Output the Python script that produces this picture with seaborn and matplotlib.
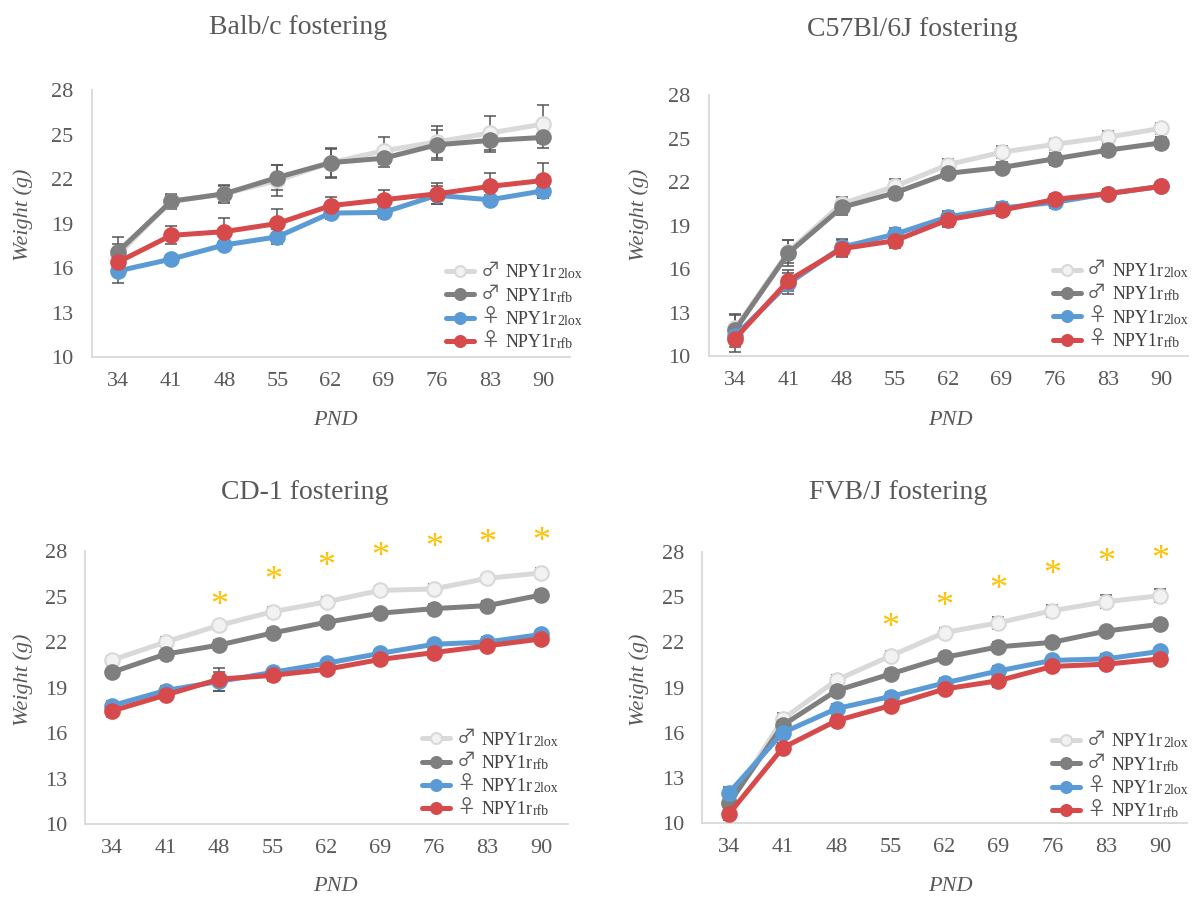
import numpy as np
import pandas as pd
import matplotlib
matplotlib.use("Agg")
import matplotlib.pyplot as plt
import seaborn as sns

# ---------------- data ----------------
pnd = [34, 41, 48, 55, 62, 69, 76, 83, 90]
yticks = [10, 13, 16, 19, 22, 25, 28]
titles = ["Balb/c fostering", "C57Bl/6J fostering", "CD-1 fostering", "FVB/J fostering"]
series_sex = ["♂", "♂", "♀", "♀"]
series_labels = ["NPY1r", "NPY1r", "NPY1r", "NPY1r"]
series_suffix = ["2lox", "rfb", "2lox", "rfb"]

# Balb/c
balb_m2lox = [16.9, 20.5, 21.0, 21.9, 23.1, 23.9, 24.5, 25.1, 25.7]
balb_mrfb = [17.1, 20.5, 21.0, 22.1, 23.1, 23.4, 24.3, 24.6, 24.8]
balb_f2lox = [15.8, 16.6, 17.55, 18.1, 19.7, 19.75, 20.9, 20.6, 21.2]
balb_frfb = [16.4, 18.2, 18.45, 19.0, 20.2, 20.6, 21.0, 21.5, 21.9]
balb_m2lox_sem = [1.2, 0.5, 0.6, 1.05, 0.95, 0.9, 1.1, 1.15, 1.3]
balb_mrfb_sem = [0.5, 0.45, 0.55, 0.85, 1.0, 0.6, 1.0, 0.8, 0.7]
balb_f2lox_sem = [0.8, 0.3, 0.3, 0.5, 0.4, 0.4, 0.6, 0.3, 0.45]
balb_frfb_sem = [0.6, 0.6, 0.95, 0.95, 0.6, 0.65, 0.7, 0.9, 1.2]

# C57Bl/6J
c57_m2lox = [11.9, 17.2, 20.5, 21.7, 23.2, 24.05, 24.6, 25.1, 25.7]
c57_mrfb = [11.8, 17.1, 20.25, 21.25, 22.6, 23.0, 23.6, 24.2, 24.7]
c57_f2lox = [11.4, 15.0, 17.5, 18.4, 19.6, 20.2, 20.6, 21.2, 21.7]
c57_frfb = [11.2, 15.2, 17.4, 17.95, 19.4, 20.05, 20.8, 21.2, 21.7]
c57_m2lox_sem = [1.0, 0.8, 0.5, 0.5, 0.4, 0.4, 0.4, 0.4, 0.4]
c57_mrfb_sem = [1.0, 0.9, 0.5, 0.4, 0.4, 0.4, 0.4, 0.4, 0.4]
c57_f2lox_sem = [0.8, 0.7, 0.6, 0.4, 0.4, 0.4, 0.4, 0.3, 0.3]
c57_frfb_sem = [0.9, 0.7, 0.6, 0.5, 0.5, 0.4, 0.4, 0.3, 0.3]

# CD-1
cd1_m2lox = [20.8, 22.0, 23.1, 24.0, 24.65, 25.4, 25.5, 26.2, 26.55]
cd1_mrfb = [20.0, 21.2, 21.8, 22.6, 23.3, 23.9, 24.2, 24.4, 25.1]
cd1_f2lox = [17.8, 18.8, 19.4, 20.0, 20.6, 21.25, 21.85, 22.0, 22.5]
cd1_frfb = [17.45, 18.5, 19.55, 19.8, 20.2, 20.85, 21.3, 21.75, 22.2]
cd1_m2lox_sem = [0.3, 0.3, 0.3, 0.3, 0.3, 0.3, 0.3, 0.3, 0.3]
cd1_mrfb_sem = [0.3, 0.3, 0.3, 0.3, 0.3, 0.3, 0.3, 0.3, 0.3]
cd1_f2lox_sem = [0.3, 0.3, 0.6, 0.3, 0.3, 0.3, 0.3, 0.3, 0.3]
cd1_frfb_sem = [0.4, 0.3, 0.75, 0.4, 0.3, 0.3, 0.3, 0.3, 0.3]
cd1_star_pnd = [48, 55, 62, 69, 76, 83, 90]
cd1_star_y = [24.8, 26.45, 27.4, 28.05, 28.65, 28.9, 29.0]

# FVB/J
fvb_m2lox = [11.3, 16.9, 19.5, 21.1, 22.65, 23.3, 24.1, 24.7, 25.1]
fvb_mrfb = [11.3, 16.5, 18.8, 19.9, 21.0, 21.7, 22.0, 22.75, 23.2]
fvb_f2lox = [12.0, 16.0, 17.6, 18.4, 19.3, 20.1, 20.8, 20.9, 21.4]
fvb_frfb = [10.6, 15.0, 16.8, 17.8, 18.9, 19.45, 20.4, 20.55, 20.9]
fvb_m2lox_sem = [0.4, 0.4, 0.3, 0.3, 0.3, 0.4, 0.4, 0.45, 0.45]
fvb_mrfb_sem = [0.4, 0.4, 0.3, 0.3, 0.3, 0.3, 0.3, 0.3, 0.3]
fvb_f2lox_sem = [0.4, 0.3, 0.3, 0.3, 0.3, 0.3, 0.3, 0.3, 0.3]
fvb_frfb_sem = [0.4, 0.3, 0.3, 0.3, 0.3, 0.4, 0.3, 0.3, 0.3]
fvb_star_pnd = [55, 62, 69, 76, 83, 90]
fvb_star_y = [23.35, 24.8, 25.9, 26.9, 27.7, 27.9]

panels = [
    dict(means=[balb_m2lox, balb_mrfb, balb_f2lox, balb_frfb],
         sems=[balb_m2lox_sem, balb_mrfb_sem, balb_f2lox_sem, balb_frfb_sem],
         stars=([], [])),
    dict(means=[c57_m2lox, c57_mrfb, c57_f2lox, c57_frfb],
         sems=[c57_m2lox_sem, c57_mrfb_sem, c57_f2lox_sem, c57_frfb_sem],
         stars=([], [])),
    dict(means=[cd1_m2lox, cd1_mrfb, cd1_f2lox, cd1_frfb],
         sems=[cd1_m2lox_sem, cd1_mrfb_sem, cd1_f2lox_sem, cd1_frfb_sem],
         stars=(cd1_star_pnd, cd1_star_y)),
    dict(means=[fvb_m2lox, fvb_mrfb, fvb_f2lox, fvb_frfb],
         sems=[fvb_m2lox_sem, fvb_mrfb_sem, fvb_f2lox_sem, fvb_frfb_sem],
         stars=(fvb_star_pnd, fvb_star_y)),
]

# ---------------- style ----------------
sns.set_theme(style="white")
plt.rcParams["font.family"] = ["Liberation Serif", "DejaVu Serif"]

line_colors = ["#D9D9D9", "#7F7F7F", "#5B9BD5", "#D64A4B"]
face_colors = ["#F2F2F2", "#7F7F7F", "#5B9BD5", "#D64A4B"]
edge_colors = ["#D9D9D9", "#7F7F7F", "#5B9BD5", "#D64A4B"]
text_gray = "#595959"
legend_gray = "#404040"

fig = plt.figure(figsize=(11.96, 8.97), dpi=100)
W, H = 1196, 897
# axes boxes in pixels: left, top, right, bottom
boxes = [(91.5, 90, 569.5, 357), (708.5, 95, 1188, 356),
         (85, 551, 568, 824), (702, 552, 1187, 823)]
title_pos = [(298, 27), (912, 30), (305, 492), (898, 492)]
ylabel_pos = [(23, 215), (639, 215), (23, 680), (639, 680)]
xlabel_pos = [(335, 420), (950, 420), (335, 886), (950, 886)]
legend_anchor = [(0.734, 0.008), (0.710, 0.009), (0.690, 0.007), (0.714, -0.003)]

for k, panel in enumerate(panels):
    l, t, r, b = boxes[k]
    ax = fig.add_axes([l / W, 1 - b / H, (r - l) / W, (b - t) / H])
    for i in range(4):
        df = pd.DataFrame({"PND": pnd, "Weight": panel["means"][i]})
        ax.errorbar(pnd, panel["means"][i], yerr=panel["sems"][i], fmt="none",
                    ecolor="#555555", elinewidth=1.1, capsize=4.5, capthick=1.1,
                    zorder=2)
        sns.lineplot(data=df, x="PND", y="Weight", ax=ax, color=line_colors[i],
                     linewidth=3.6, marker="o", markersize=10.5,
                     markerfacecolor=face_colors[i], markeredgecolor=edge_colors[i],
                     markeredgewidth=1.5, label=series_labels[i], zorder=3 + i,
                     errorbar=None)
    sp, sy = panel["stars"]
    for x, y in zip(sp, sy):
        ax.annotate("*", xy=(x, y), xytext=(0, -5), textcoords="offset points",
                    color="#FFC000", fontsize=26, ha="center", va="center",
                    annotation_clip=False, zorder=10)
    ax.set_xlim(30.5, 93.5)
    ax.set_ylim(10, 28)
    ax.set_xticks(pnd)
    ax.set_yticks(yticks)
    ax.set_xlabel("")
    ax.set_ylabel("")
    for s in ["top", "right"]:
        ax.spines[s].set_visible(False)
    for s in ["left", "bottom"]:
        ax.spines[s].set_color("#D9D9D9")
        ax.spines[s].set_linewidth(1.3)
    ax.tick_params(axis="both", length=0, labelsize=16, colors=text_gray)
    ax.tick_params(axis="x", pad=11)
    ax.tick_params(axis="y", pad=13)
    leg = ax.legend(loc="lower left", bbox_to_anchor=legend_anchor[k], frameon=False,
                    fontsize=13, handlelength=1.55, labelspacing=0.35,
                    borderaxespad=0.0, borderpad=0.2, markerscale=0.75,
                    handletextpad=1.75)
    for txt, sex, suf in zip(leg.get_texts(), series_sex, series_suffix):
        txt.set_color(legend_gray)
        ax.annotate(suf, xy=(1, 0), xycoords=txt, xytext=(0.3, 0),
                    textcoords="offset points", fontsize=10,
                    color=legend_gray, ha="left", va="bottom",
                    annotation_clip=False, zorder=20)
        ax.annotate(sex, xy=(0, 0), xycoords=txt, xytext=(-4, 0.5),
                    textcoords="offset points", fontsize=14,
                    family=["Noto Sans CJK JP", "DejaVu Sans"], color="#595959",
                    ha="right", va="bottom", annotation_clip=False, zorder=20)

    fig.text(title_pos[k][0] / W, 1 - title_pos[k][1] / H, titles[k],
             ha="center", va="center", fontsize=20, color=text_gray)
    fig.text(ylabel_pos[k][0] / W, 1 - ylabel_pos[k][1] / H, "Weight (g)",
             ha="center", va="center", fontsize=16, color=text_gray,
             rotation=90, style="italic")
    fig.text(xlabel_pos[k][0] / W, 1 - xlabel_pos[k][1] / H, "PND",
             ha="center", va="center", fontsize=16, color=text_gray,
             style="italic")

fig.canvas.draw()
fig.savefig("out.png", dpi=100)
